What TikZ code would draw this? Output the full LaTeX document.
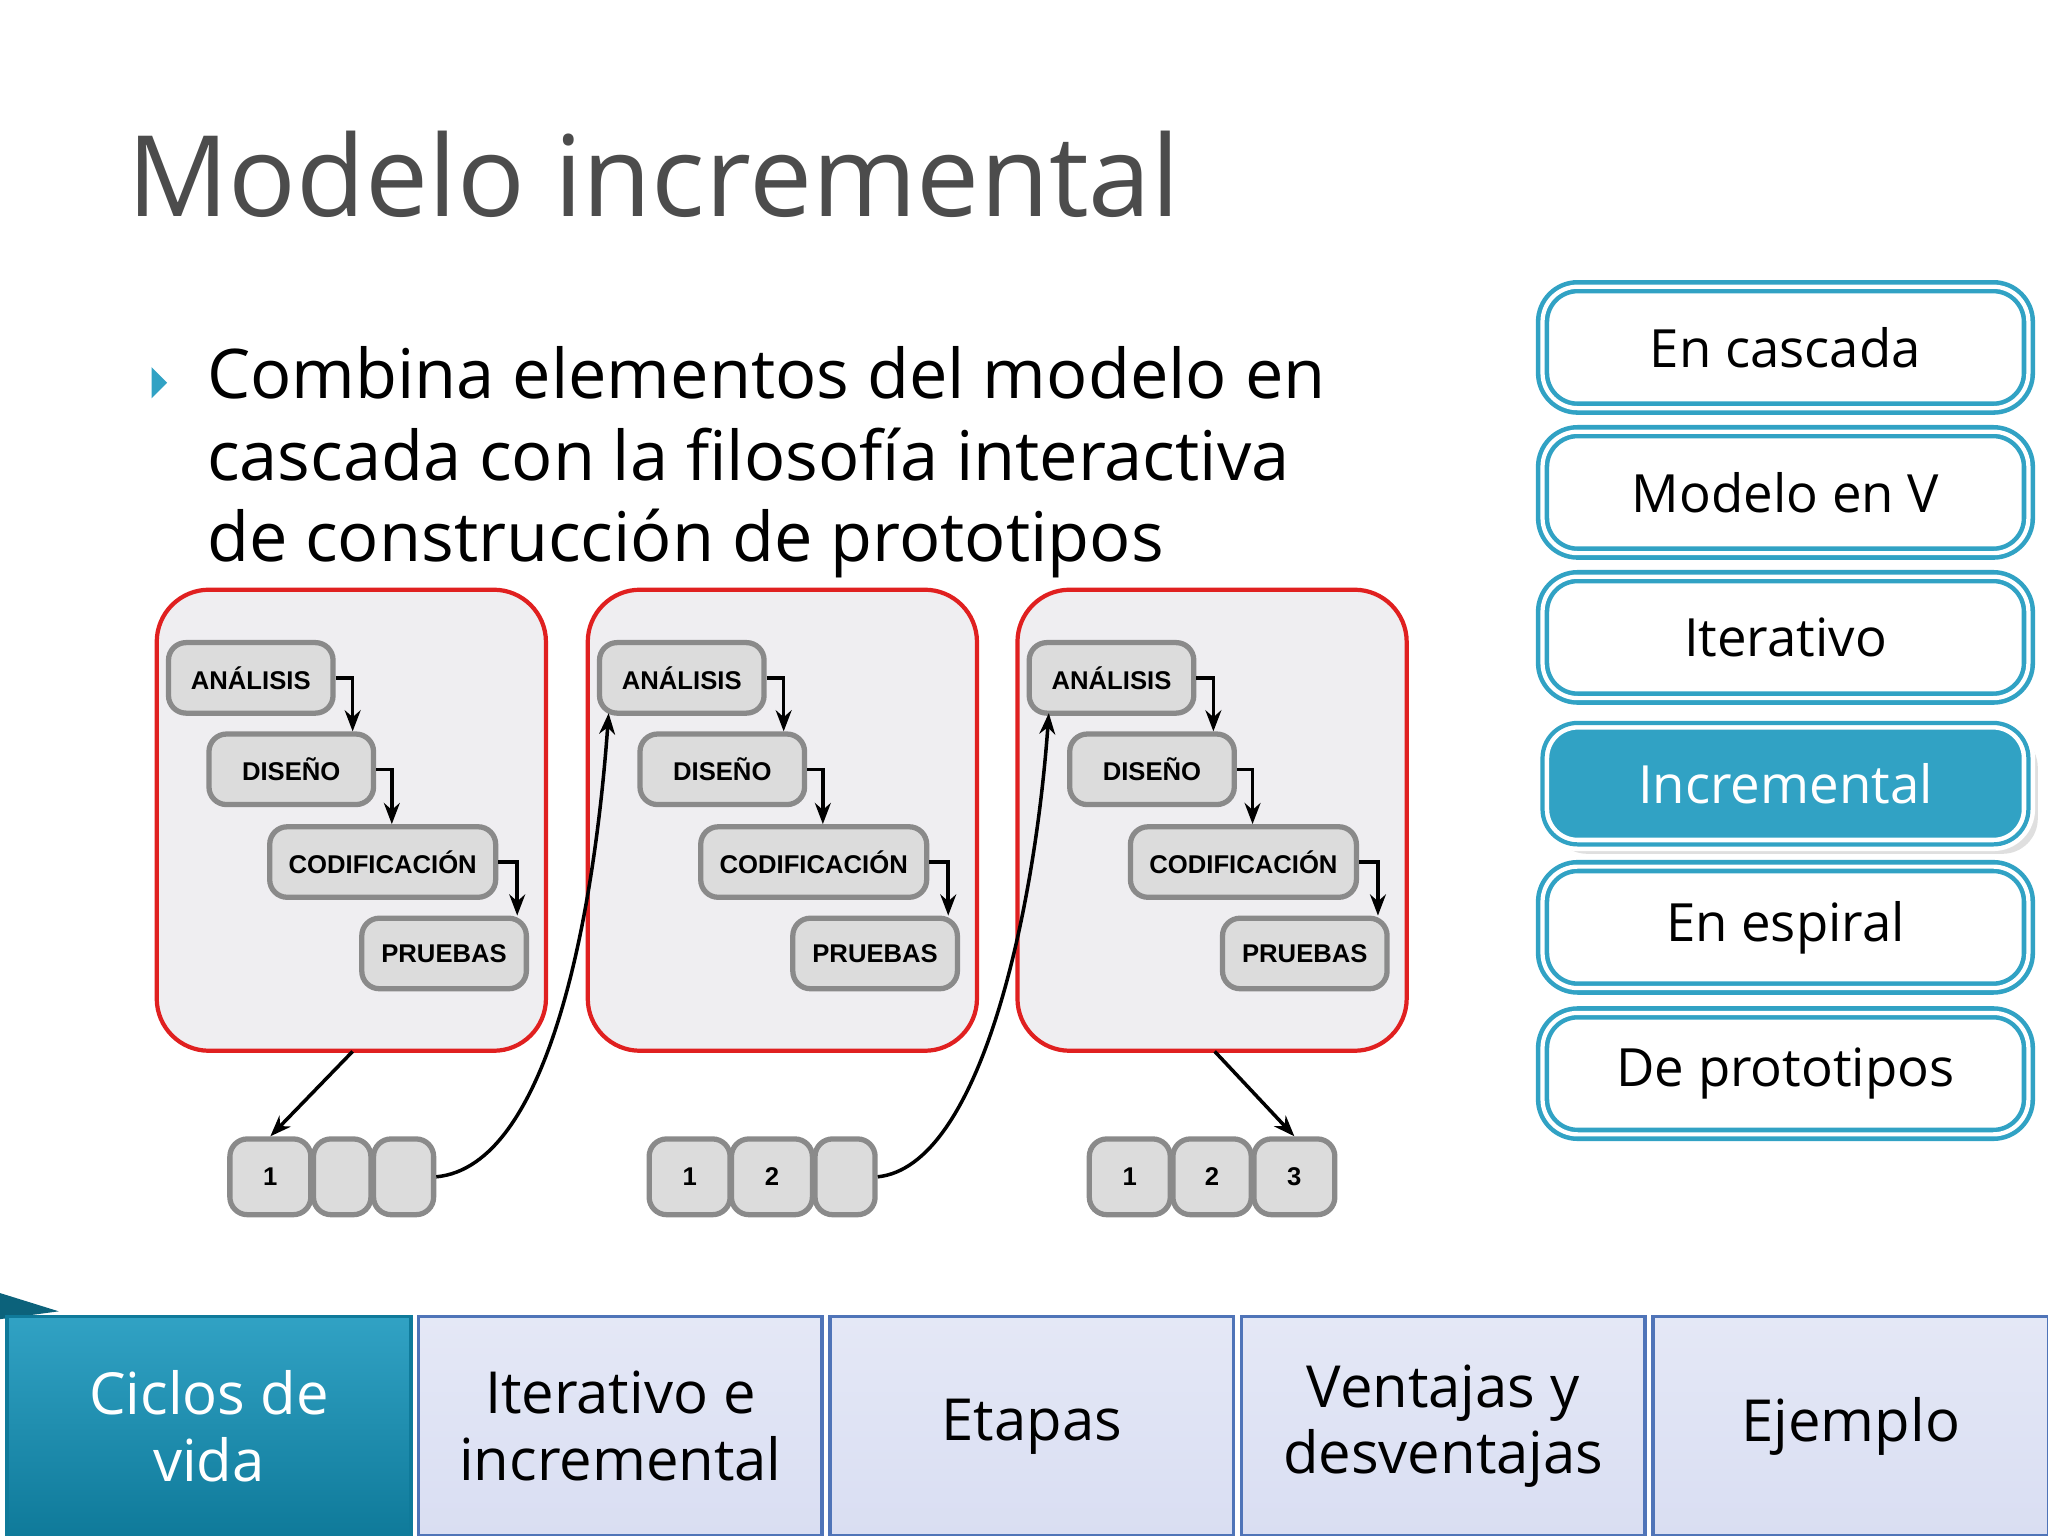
\documentclass[tikz,border=0pt]{standalone}
\usepackage{fontspec}
\setmainfont{Open Sans}
\newfontfamily\boxfont{Liberation Sans}
\usetikzlibrary{arrows.meta,shadows}
\definecolor{teal}{HTML}{31A2C4}
\definecolor{tealdark}{HTML}{0F7A9A}
\definecolor{tabfill}{HTML}{D9DEF2}
\definecolor{tabline}{HTML}{4F74B8}
\definecolor{panel}{HTML}{EFEEF1}
\definecolor{redline}{HTML}{E02020}
\definecolor{stepfill}{HTML}{DCDCDC}
\definecolor{stepline}{HTML}{8A8A8A}
\newlength\unitpx \setlength\unitpx{0.013061cm}
\tikzset{
 menubox/.style={draw=teal,line width=1.3pt,double=white,double distance=1.2pt,fill=white,rounded corners=10pt,minimum width=372\unitpx,minimum height=93\unitpx,font=\fontsize{15}{18}\selectfont,inner sep=0pt},
 panelbox/.style={draw=redline,line width=1.2pt,fill=panel,rounded corners=40\unitpx,minimum width=298\unitpx,minimum height=353\unitpx},
 stepbox/.style={draw=stepline,line width=1.5pt,fill=stepfill,rounded corners=5pt,minimum height=54\unitpx,font=\boxfont\bfseries\fontsize{7.3}{9}\selectfont,inner sep=0pt},
 cellbox/.style={draw=stepline,line width=1.5pt,fill=stepfill,rounded corners=5pt,minimum height=58\unitpx,font=\boxfont\bfseries\fontsize{7.3}{9}\selectfont,inner sep=0pt},
 flow/.style={-{Stealth[length=6pt]},line width=1pt,black},
 tab/.style={draw=tabline,line width=1pt,top color=tabfill!70!white,bottom color=tabfill,minimum width=309\unitpx,minimum height=168\unitpx,font=\fontsize{16.5}{19}\selectfont,align=center,inner sep=0pt},
 txt/.style={anchor=base west,inner sep=0pt,font=\fontsize{19.5}{24}\selectfont},
}
\begin{document}
\begin{tikzpicture}[x=0.013061cm,y=-0.013061cm]
\useasboundingbox (0,0) rectangle (1568,1176);
\node[txt,text=black!70,font=\fontsize{32}{38}\selectfont] (title) at (97,166) {Modelo incremental};
\fill[teal] (116,281) -- (128,293) -- (116,305) -- cycle;
\node[txt] (bul) at (158,305) {Combina elementos del modelo en};
\node[txt] (bul2) at (158,368) {cascada con la filosofía interactiva};
\node[txt] (bul3) at (158,430) {de construcción de prototipos};
\node[menubox] (m1) at (1367,266) {En cascada};
\node[menubox] (m2) at (1367,377) {Modelo en V};
\node[menubox] (m3) at (1367,488) {Iterativo};
\node[menubox,fill=teal,draw=white,double=teal,text=white,drop shadow={opacity=0.25}] (m4) at (1367,600) {Incremental};
\node[menubox] (m5) at (1367,710) {En espiral};
\node[menubox] (m6) at (1367,822) {De prototipos};
\foreach \i/\dx in {1/0,2/330,3/659}{
 \begin{scope}[xshift=\dx*0.013061cm]
 \node[panelbox] (p\i) at (269,628) {};
 \node[stepbox,minimum width=126\unitpx] (a\i) at (192,519) {ANÁLISIS};
 \node[stepbox,minimum width=126\unitpx] (d\i) at (223,589) {DISEÑO};
 \node[stepbox,minimum width=173\unitpx] (c\i) at (293,660) {CODIFICACIÓN};
 \node[stepbox,minimum width=126\unitpx] (r\i) at (340,730) {PRUEBAS};
 \draw[flow] (a\i.east) -| (d\i.north -| 270,0);
 \draw[flow] (d\i.east) -| (c\i.north -| 300,0);
 \draw[flow] (c\i.east) -| (r\i.north -| 396,0);
 \end{scope}}
\node[cellbox,minimum width=62\unitpx] (s11) at (207,901) {1};
\node[cellbox,minimum width=44\unitpx] (s12) at (262,901) {\strut};
\node[cellbox,minimum width=46\unitpx] (s13) at (309,901) {\strut};
\node[cellbox,minimum width=62\unitpx] (s21) at (528,901) {1};
\node[cellbox,minimum width=62\unitpx] (s22) at (591,901) {2};
\node[cellbox,minimum width=46\unitpx] (s23) at (647,901) {\strut};
\node[cellbox,minimum width=62\unitpx] (s31) at (865,901) {1};
\node[cellbox,minimum width=60\unitpx] (s32) at (928,901) {2};
\node[cellbox,minimum width=62\unitpx] (s33) at (991,901) {3};
\coordinate (p1b) at (270,805);
\coordinate (p3b) at (930,805);
\draw[flow] (p1b) -- (s11.north);
\draw[flow] (p3b) -- (s33.north);
\draw[flow] (s13.east) .. controls (420,893) and (455,700) .. (466,546);
\draw[flow] (s23.east) .. controls (750,893) and (792,700) .. (803,546);
\fill[tealdark!80!black] (0,990) -- (45,1004) -- (0,1010) -- cycle;
\node[tab,top color=teal,bottom color=tealdark,draw=tealdark,text=white] (t1) at (160,1092) {Ciclos de\\vida};
\node[tab] (t2) at (475,1092) {Iterativo e\\incremental};
\node[tab] (t3) at (790,1092) {Etapas};
\node[tab] (t4) at (1105,1092) {Ventajas y\\desventajas};
\node[tab,minimum width=303\unitpx] (t5) at (1417,1092) {Ejemplo};
\end{tikzpicture}
\end{document}
